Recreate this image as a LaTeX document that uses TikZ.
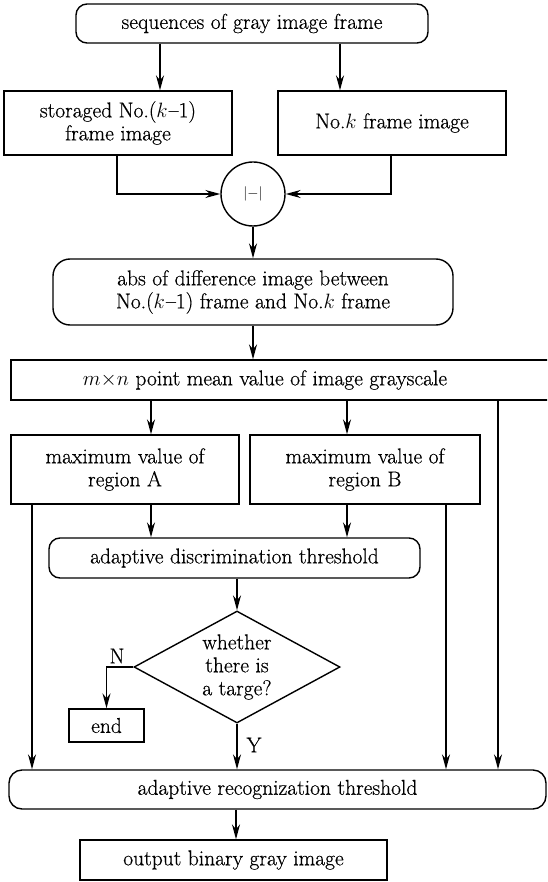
\documentclass[tikz,border=0pt]{standalone}
\usepackage{fontspec}
\setmainfont{Latin Modern Roman}[FakeBold=0.5]
\usetikzlibrary{shapes.geometric,arrows.meta}
\begin{document}
\begin{tikzpicture}[x=1pt,y=-1pt,
  every node/.style={font=\fontsize{21.5}{23}\selectfont, align=center, inner sep=0pt},
  box/.style={draw, line width=1.4pt, rectangle},
  rbox/.style={draw, line width=1.4pt, rectangle, rounded corners=11pt},
  arr/.style={line width=1.4pt, -{Stealth[length=15pt,width=8pt,inset=5pt]}},
  ln/.style={line width=1.4pt}]
\clip (0,0) rectangle (547,882);
\fill[white] (0,0) rectangle (547,882);
\node[rbox, minimum width=352, minimum height=39] (top) at (252,23.5) {sequences of gray image frame};
\node[box, minimum width=228, minimum height=64] (prev) at (118,123) {storaged No.($k$\kern1pt--1)\\frame image};
\node[box, minimum width=228, minimum height=64] (cur) at (392,123) {No.$k$ frame image};
\node[draw, circle, line width=1.4pt, minimum size=64, font=\fontsize{15}{16}\selectfont] (c) at (253,194) {$|{-}|$};
\node[rbox, rounded corners=17pt, minimum width=400, minimum height=66] (abs) at (253,292) {abs of difference image between\\No.($k$\kern1pt--1) frame and No.$k$ frame};
\node[box, minimum width=549, minimum height=40] (mn) at (285.5,380) {};
\node (mnt) at (265,380) {$m{\times}n$ point mean value of image grayscale};
\node[box, minimum width=228, minimum height=69] (A) at (125,469.5) {maximum value of\\region A};
\node[box, minimum width=230, minimum height=69] (B) at (365,469.5) {maximum value of\\region B};
\node[rbox, minimum width=371, minimum height=40] (disc) at (234.5,558) {adaptive discrimination threshold};
\node[draw, diamond, line width=1.4pt, aspect=1.84, minimum width=206, minimum height=112] (d) at (237,667) {whether\\there is\\a targe?};
\node[box, minimum width=75, minimum height=33] (end) at (106.5,725.5) {end};
\node[rbox, rounded corners=13pt, minimum width=537, minimum height=39] (rec) at (277.5,789.5) {adaptive recognization threshold};
\node[box, minimum width=307, minimum height=40] (out) at (233.5,860) {output binary gray image};
\node (N) at (117,656) {N};
\node (Y) at (254,745) {Y};
% connectors
\draw[arr] (top.south -| 160,0) -- (prev.north -| 160,0);
\draw[arr] (top.south -| 340,0) -- (cur.north -| 340,0);
\draw[arr] (prev.south -| 117,0) |- (c.west);
\draw[arr] (cur.south -| 391,0) |- (c.east);
\draw[arr] (c.south) -- (abs.north -| c.south);
\draw[arr] (abs.south) -- (mn.north -| abs.south);
\draw[arr] (mn.south -| 151,0) -- (A.north -| 151,0);
\draw[arr] (mn.south -| 347,0) -- (B.north -| 347,0);
\draw[arr] (mn.south -| 498,0) -- (rec.north -| 498,0);
\draw[arr] (A.south -| 32,0) -- (rec.north -| 32,0);
\draw[arr] (B.south -| 446,0) -- (rec.north -| 446,0);
\draw[arr] (A.south -| 151,0) -- (disc.north -| 151,0);
\draw[arr] (B.south -| 347,0) -- (disc.north -| 347,0);
\draw[arr] (disc.south -| d.north) -- (d.north);
\draw[arr] (d.west) -| (end.north);
\draw[arr] (d.south) -- (rec.north -| d.south);
\draw[arr] (rec.south -| 236,0) -- (out.north -| 236,0);
\end{tikzpicture}
\end{document}
